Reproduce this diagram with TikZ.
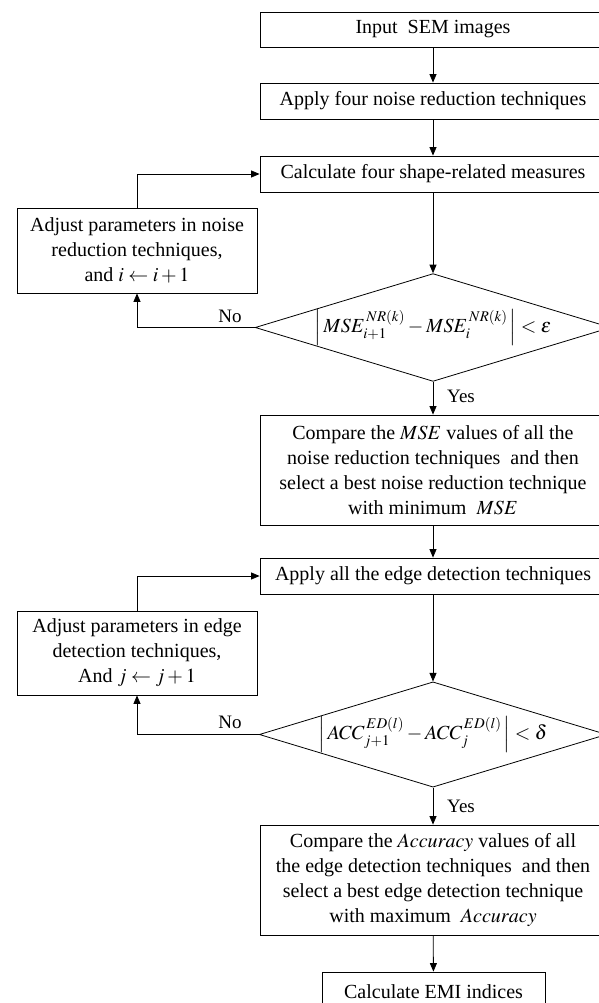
\documentclass[tikz,border=0pt]{standalone}
\usepackage{mathptmx}
\usepackage{fontspec}
\setmainfont{Liberation Serif}
\usetikzlibrary{shapes.geometric,arrows.meta}

\begin{document}
\begin{tikzpicture}[x=1pt,y=1pt,line width=0.8pt]
    \tikzstyle{every node}+=[inner sep=0pt,font=\fontsize{20}{25}\selectfont]
    \tikzstyle{stepbox}=[draw,rectangle,minimum width=346pt,align=center]
    \tikzstyle{adjbox}=[draw,rectangle,minimum width=240pt,align=center]
    \tikzstyle{decision}=[draw,diamond,minimum width=346pt,minimum height=105pt,aspect=3.3]
    \tikzstyle{flow}=[-{Triangle[length=8.5pt,width=7pt]}]
    \tikzstyle{answer}=[font=\fontsize{19}{22}\selectfont]
    \useasboundingbox (0,0) rectangle (598,-1003);
    \node [stepbox,minimum height=35pt] (input) at (433,-29.5) {Input\ \ SEM images};
    \node [stepbox,minimum height=36pt] (denoise) at (433,-101) {Apply four noise reduction techniques};
    \node [stepbox,minimum height=36pt] (measure) at (433,-174) {Calculate four shape-related measures};
    \node [adjbox,minimum height=85pt] (adjnr) at (137,-250.5) {Adjust parameters in noise\\reduction techniques,\\and $i \leftarrow i+1$};
    \node [decision] (msetest) at (433,-327.5) {$\Bigl|\,MSE_{i+1}^{\,NR(k)}-MSE_{i}^{\,NR(k)}\,\Bigr|<\varepsilon$};
    \node [answer] (no1) at (230,-316) {No};
    \node [answer] (yes1) at (461,-396) {Yes};
    \node [stepbox,minimum height=110pt] (bestnr) at (433,-470) {Compare the $MSE$ values of all the\\noise reduction techniques\ \ and then\\select a best noise reduction technique\\with minimum\ \ $MSE$};
    \node [stepbox,minimum height=36pt] (edges) at (433,-576) {Apply all the edge detection techniques};
    \node [adjbox,minimum height=84pt] (adjed) at (137,-653) {Adjust parameters in edge\\detection techniques,\\And $j \leftarrow j+1$};
    \node [decision] (acctest) at (433,-734.5) {$\Bigl|\,ACC_{j+1}^{\,ED(l)}-ACC_{j}^{\,ED(l)}\,\Bigr|<\delta$};
    \node [answer] (no2) at (230,-722) {No};
    \node [answer] (yes2) at (461,-806) {Yes};
    \node [stepbox,minimum height=110pt] (bested) at (433,-880) {Compare the $Accuracy$ values of all\\the edge detection techniques\ \ and then\\select a best edge detection technique\\with maximum\ \ $Accuracy$};
    \node [draw,rectangle,minimum width=223pt,minimum height=40pt] (emi) at (433.5,-992) {Calculate EMI indices};
    \draw [flow] (input) -- (denoise);
    \draw [flow] (denoise) -- (measure);
    \draw [flow] (measure) -- (msetest);
    \draw [flow] (msetest.west) -| (adjnr.south);
    \draw [flow] (adjnr.north) |- (measure.west);
    \draw [flow] (msetest) -- (bestnr);
    \draw [flow] (bestnr) -- (edges);
    \draw [flow] (edges) -- (acctest);
    \draw [flow] (acctest.west) -| (adjed.south);
    \draw [flow] (adjed.north) |- (edges.west);
    \draw [flow] (acctest) -- (bested);
    \draw [flow] (bested) -- (emi);
\end{tikzpicture}
\end{document}
